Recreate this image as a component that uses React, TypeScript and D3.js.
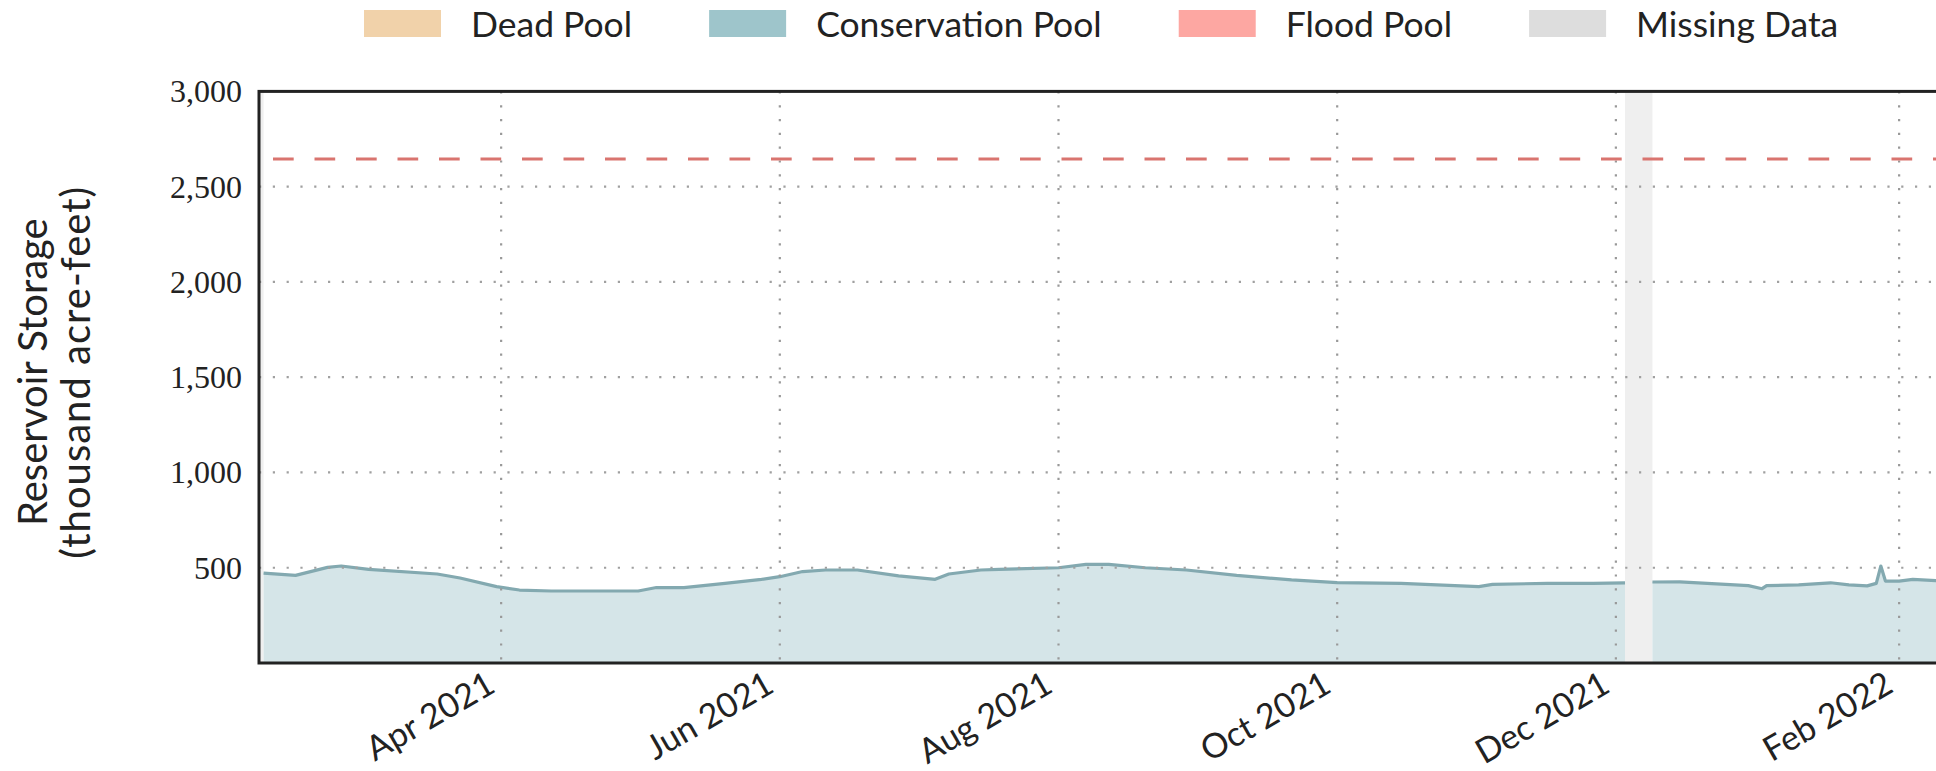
import React, { useEffect, useRef } from "react";
import * as d3 from "d3";

// ---- data ----
const obsDates = [
  "2021-02-08", "2021-02-15", "2021-02-22", "2021-02-25", "2021-03-03", "2021-03-18",
  "2021-03-23", "2021-03-31", "2021-04-05", "2021-04-12", "2021-05-01", "2021-05-05",
  "2021-05-11", "2021-05-20", "2021-05-28", "2021-06-01", "2021-06-06", "2021-06-11",
  "2021-06-18", "2021-06-27", "2021-07-05", "2021-07-08", "2021-07-15", "2021-07-19",
  "2021-08-01", "2021-08-07", "2021-08-12", "2021-08-20", "2021-08-29", "2021-09-09",
  "2021-09-21", "2021-10-01", "2021-10-15", "2021-11-01", "2021-11-04", "2021-11-16",
  "2021-11-26", "2021-12-03", "2021-12-06", "2021-12-09", "2021-12-15", "2021-12-23",
  "2021-12-30", "2022-01-02", "2022-01-03", "2022-01-10", "2022-01-17", "2022-01-21",
  "2022-01-25", "2022-01-27", "2022-01-28", "2022-01-29", "2022-02-01", "2022-02-04",
  "2022-02-09", "2022-02-13",
];
const storageKaf: (number | null)[] = [
  472, 460, 502, 509, 491, 467,
  446, 401, 383, 378, 378, 396,
  396, 418, 439, 453, 480, 488,
  488, 457, 439, 467, 488, 491,
  500, 518, 518, 500, 488, 460,
  436, 422, 418, 401, 413, 418,
  418, 421, null, 425, 426, 415,
  406, 390, 406, 410, 421, 410,
  405, 418, 509, 430, 430, 439,
  432, 434,
];
const floodPoolTop = 2645;
const missingStart = ["2021-02-07", "2021-12-03"];
const missingEnd = ["2021-02-08", "2021-12-09"];
const yTickValues = [500, 1000, 1500, 2000, 2500, 3000];
const xTickDates = ["2021-04-01", "2021-06-01", "2021-08-01", "2021-10-01", "2021-12-01", "2022-02-01"];
const xTickLabels = ["Apr 2021", "Jun 2021", "Aug 2021", "Oct 2021", "Dec 2021", "Feb 2022"];
const domainStart = "2021-02-07";
const domainEnd = "2022-02-14";
const legendLabels = ["Dead Pool", "Conservation Pool", "Flood Pool", "Missing Data"];
const legendColors = ["#f1d2aa", "#9ec5cb", "#fda7a2", "#dddddd"];
const yTitleLines = ["Reservoir Storage", "(thousand acre-feet)"];

const W = 1936;
const H = 771;
const SANS = "Lato, 'Open Sans', sans-serif";
const SERIF = "'Liberation Serif', 'DejaVu Serif', serif";

export default function App() {
  const ref = useRef<SVGSVGElement | null>(null);

  useEffect(() => {
    const svg = d3.select(ref.current);
    svg.selectAll("*").remove();
    const parse = d3.utcParse("%Y-%m-%d");

    const left = 259, top = 91.4, bottom = 663;
    const pxPerDay = 4.5686;
    const d0 = parse(domainStart) as Date;
    const d1 = parse(domainEnd) as Date;
    const nDays = (d1.getTime() - d0.getTime()) / 86400000;
    const right = left + nDays * pxPerDay;

    const x = d3.scaleUtc().domain([d0, d1]).range([left, right]);
    const y = d3.scaleLinear().domain([0, 3000]).range([bottom, top]);

    const data = obsDates.map((d, i) => ({ date: parse(d) as Date, v: storageKaf[i] }));

    const clipId = "plotclip";
    svg.append("defs").append("clipPath").attr("id", clipId)
      .append("rect").attr("x", left).attr("y", top).attr("width", right - left).attr("height", bottom - top);

    const plot = svg.append("g").attr("clip-path", `url(#${clipId})`);

    // missing data bands
    plot.selectAll("rect.miss").data(missingStart).enter().append("rect")
      .attr("class", "miss")
      .attr("x", (d) => x(parse(d) as Date))
      .attr("width", (d, i) => x(parse(missingEnd[i]) as Date) - x(parse(d) as Date))
      .attr("y", top).attr("height", bottom - top)
      .attr("fill", "#efefef");

    // conservation area
    const area = d3.area<{ date: Date; v: number | null }>()
      .defined((d) => d.v != null)
      .x((d) => x(d.date))
      .y0(y(0))
      .y1((d) => y(d.v as number));
    plot.append("path").datum(data).attr("d", area as any).attr("fill", "#d5e5e8");

    const line = d3.line<{ date: Date; v: number | null }>()
      .defined((d) => d.v != null)
      .x((d) => x(d.date))
      .y((d) => y(d.v as number));
    plot.append("path").datum(data).attr("d", line as any)
      .attr("fill", "none").attr("stroke", "#83a9b0").attr("stroke-width", 3.2)
      .attr("stroke-linejoin", "round");

    // grid
    plot.selectAll("line.hg").data(yTickValues.filter((v) => v < 3000)).enter().append("line")
      .attr("x1", left).attr("x2", right)
      .attr("y1", (d) => y(d)).attr("y2", (d) => y(d))
      .attr("stroke", "#a0a0a0").attr("stroke-width", 2.2).attr("stroke-dasharray", "2.2,11.6");
    plot.selectAll("line.vg").data(xTickDates).enter().append("line")
      .attr("x1", (d) => x(parse(d) as Date)).attr("x2", (d) => x(parse(d) as Date))
      .attr("y1", top).attr("y2", bottom)
      .attr("stroke", "#999").attr("stroke-width", 2.2).attr("stroke-dasharray", "2.2,11.6");

    // flood pool line
    plot.append("line")
      .attr("x1", left).attr("x2", right)
      .attr("y1", y(floodPoolTop)).attr("y2", y(floodPoolTop))
      .attr("stroke", "#d9746f").attr("stroke-width", 3).attr("stroke-dasharray", "20.7,20.8")
      .attr("stroke-dashoffset", -14);

    // frame
    svg.append("rect").attr("x", left).attr("y", top).attr("width", right - left).attr("height", bottom - top)
      .attr("fill", "none").attr("stroke", "#222").attr("stroke-width", 3);

    // y tick labels
    svg.selectAll("text.yt").data(yTickValues).enter().append("text")
      .attr("x", 242).attr("y", (d) => y(d)).attr("dy", "0.34em")
      .attr("text-anchor", "end").attr("font-family", SERIF).attr("font-size", 32).attr("fill", "#222")
      .text((d) => d3.format(",")(d));

    // x tick labels
    svg.selectAll("text.xt").data(xTickDates).enter().append("text")
      .attr("transform", (d) => `translate(${x(parse(d) as Date) - 4},${691}) rotate(-30)`)
      .attr("text-anchor", "end").attr("font-family", SANS).attr("font-size", 34).attr("fill", "#222")
      .text((d, i) => xTickLabels[i]);

    // y title
    const cy = (top + bottom) / 2 - 5;
    svg.selectAll("text.ytl").data(yTitleLines).enter().append("text")
      .attr("transform", (d, i) => `translate(${47 + i * 43},${cy}) rotate(-90)`)
      .attr("text-anchor", "middle").attr("font-family", SANS).attr("font-size", 40).attr("fill", "#222")
      .attr("letter-spacing", (d, i) => (i === 1 ? 1 : 0))
      .text((d) => d);

    // legend
    const lg = svg.append("g");
    let cx = 364;
    legendLabels.forEach((lab, i) => {
      lg.append("rect").attr("x", cx).attr("y", 10).attr("width", 77).attr("height", 27).attr("fill", legendColors[i]);
      const t = lg.append("text").attr("x", cx + 107).attr("y", 37)
        .attr("font-family", SANS).attr("font-size", 35.5).attr("fill", "#222").text(lab);
      const w = (t.node() as SVGTextElement).getComputedTextLength();
      cx = cx + 107 + w + 77;
    });
  }, []);

  return (
    <svg
      ref={ref}
      width={W}
      height={H}
      style={{ position: "absolute", left: 0, top: 0, background: "#fff" }}
    />
  );
}
